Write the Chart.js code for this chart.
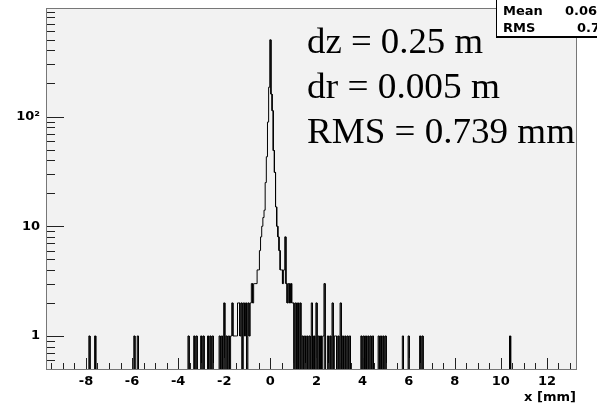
<!DOCTYPE html>
<html lang="en">
<head>
  <meta charset="UTF-8" />
  <title>x residual histogram</title>
  <script src="https://cdn.jsdelivr.net/npm/chart.js"></script>
  <style>
    html, body { margin: 0; padding: 0; background: #fff; }
    #wrap { width: 597px; height: 411px; }
  </style>
</head>
<body>
  <div id="wrap"><canvas id="histo" width="597" height="411"></canvas></div>

  <script>
    // histogram binning (bin centres, mm)
    const binWidth = 0.05;
    const firstBin = -9.7;
    const lastBin = 13.25;

    // central peak, read bin by bin
    const coreX = [-1.45, -1.40, -1.35, -1.30, -1.25, -1.20, -1.15, -1.10, -1.05, -1.00,
                   -0.95, -0.90, -0.85, -0.80, -0.75, -0.70, -0.65, -0.60, -0.55, -0.50,
                   -0.45, -0.40, -0.35, -0.30, -0.25, -0.20, -0.15, -0.10, -0.05, 0.00,
                   0.05, 0.10, 0.15, 0.20, 0.25, 0.30, 0.35, 0.40, 0.45, 0.50,
                   0.55, 0.60, 0.65, 0.70, 0.75, 0.80, 0.85, 0.90, 0.95, 1.00,
                   1.05, 1.10, 1.15, 1.20, 1.25, 1.30];
    const coreN = [1, 2, 2, 1, 2, 0, 2, 1, 2, 0,
                   2, 1, 2, 3, 2, 3, 3, 3, 4, 4,
                   6, 8, 10, 12, 14, 25, 43, 89, 185, 500,
                   160, 113, 49, 31, 15, 10, 8, 6, 4, 4,
                   3, 4, 8, 3, 2, 3, 2, 3, 2, 2,
                   0, 2, 0, 2, 0, 2];

    // tails
    const singleX = [-7.85, -7.60, -5.90, -5.75, -3.55, -3.30, -3.20, -3.00, -2.90,
                     -2.70, -2.60, -2.50, -2.20, -2.10, -1.90, -1.80, -1.70,
                     -1.60, -1.55, -1.50,
                     1.40, 1.50, 1.60, 1.70, 1.90, 2.10, 2.20, 2.30,
                     2.50, 2.60, 2.80, 2.85, 2.95, 3.15, 3.25, 3.35, 3.45,
                     3.95, 4.05, 4.15, 4.25, 4.35, 4.45, 4.70, 4.80, 4.90, 5.00,
                     5.75, 6.00, 6.50, 6.60, 10.40];
    const doubleX = [-2.00, -1.65, 1.80, 2.00, 2.70, 3.05];
    const tripleX = [2.35];

    const xTickVals = [-8, -6, -4, -2, 0, 2, 4, 6, 8, 10, 12];
    const yTickVals = [0.6, 0.7, 0.8, 0.9, 1, 2, 3, 4, 5, 6, 7, 8, 9,
                       10, 20, 30, 40, 50, 60, 70, 80, 90,
                       100, 200, 300, 400, 500, 600, 700, 800, 900];
    const yTickText = { 1: '1', 10: '10', 100: '10\u00b2' };

    const statNames = ['Mean', 'RMS'];
    const statValues = ['0.06', '0.7'];
    const noteLines = ['dz = 0.25 m', 'dr = 0.005 m', 'RMS = 0.739 mm'];

    // fill bins
    const counts = new Map();
    function put(xs, ns) {
      xs.forEach((x, i) => counts.set(Math.round(x / binWidth), Array.isArray(ns) ? ns[i] : ns));
    }
    put(singleX, 1);
    put(doubleX, 2);
    put(tripleX, 3);
    put(coreX, coreN);

    // step outline like ROOT draws it
    const points = [];
    const kFirst = Math.round(firstBin / binWidth);
    const kLast = Math.round(lastBin / binWidth);
    for (let k = kFirst; k <= kLast; k++) {
      const c = counts.get(k) || 0;
      const y = c > 0 ? c : 0.01;
      points.push({ x: (k - 0.5) * binWidth, y: y });
      points.push({ x: (k + 0.5) * binWidth, y: y });
    }

    const SANS = '"DejaVu Sans", sans-serif';

    const rootFrame = {
      id: 'rootFrame',
      beforeDraw(chart) {
        const { ctx, chartArea: a } = chart;
        ctx.save();
        ctx.fillStyle = '#ffffff';
        ctx.fillRect(0, 0, chart.width, chart.height);
        ctx.fillStyle = '#f2f2f2';
        ctx.fillRect(a.left, a.top, a.right - a.left, a.bottom - a.top);
        ctx.restore();
      },
      afterDraw(chart) {
        const { ctx, chartArea: a } = chart;
        const xs = chart.scales.x, ys = chart.scales.y;
        ctx.save();

        // frame
        ctx.strokeStyle = '#777';
        ctx.lineWidth = 1;
        ctx.strokeRect(a.left - 0.5, a.top - 0.5, a.right - a.left + 1, a.bottom - a.top + 1);

        // ticks inside the frame
        ctx.strokeStyle = '#222';
        ctx.beginPath();
        for (let v = -9.5; v <= 13.01; v += 0.5) {
          const px = Math.round(xs.getPixelForValue(v)) + 0.5;
          const len = xTickVals.includes(Math.round(v * 10) / 10) ? 11 : 6;
          ctx.moveTo(px, a.bottom);
          ctx.lineTo(px, a.bottom - len);
        }
        yTickVals.forEach(v => {
          const py = Math.round(ys.getPixelForValue(v)) + 0.5;
          const len = yTickText[v] ? 17 : 8;
          ctx.moveTo(a.left, py);
          ctx.lineTo(a.left + len, py);
        });
        ctx.stroke();

        // axis title
        ctx.fillStyle = '#000';
        ctx.font = 'bold 13px ' + SANS;
        ctx.textAlign = 'right';
        ctx.textBaseline = 'alphabetic';
        ctx.fillText('x [mm]', a.right, 401);

        // annotation, stretched to the widths seen in the original
        ctx.textAlign = 'left';
        ctx.font = '35px "Liberation Serif", "Times New Roman", serif';
        const widths = [176, 193, 268];
        noteLines.forEach((t, i) => {
          const w = ctx.measureText(t).width;
          ctx.save();
          ctx.translate(307, 53 + i * 45);
          ctx.scale(widths[i] / w, 1);
          ctx.fillText(t, 0, 0);
          ctx.restore();
        });

        // stats box
        ctx.fillStyle = '#fff';
        ctx.fillRect(496, 0, 110, 37);
        ctx.strokeStyle = '#000';
        ctx.strokeRect(496.5, -1, 110, 37.5);
        ctx.beginPath();
        ctx.moveTo(496, 37.5);
        ctx.lineTo(597, 37.5);
        ctx.stroke();
        ctx.fillStyle = '#000';
        ctx.font = 'bold 13px ' + SANS;
        statNames.forEach((t, i) => ctx.fillText(t, 503, 15 + i * 17));
        ctx.fillText(statValues[0], 565, 15);
        ctx.fillText(statValues[1], 577, 32);
        ctx.restore();
      }
    };

    new Chart(document.getElementById('histo'), {
      type: 'line',
      data: {
        datasets: [{
          data: points,
          borderColor: '#000',
          borderWidth: 1,
          pointRadius: 0,
          tension: 0,
          fill: false,
          clip: 0
        }]
      },
      options: {
        responsive: false,
        animation: false,
        events: [],
        layout: { padding: { top: 9, right: 21, left: 0, bottom: 0 } },
        plugins: { legend: { display: false }, tooltip: { enabled: false } },
        scales: {
          x: {
            type: 'linear',
            min: -9.69,
            max: 13.26,
            afterBuildTicks: axis => { axis.ticks = xTickVals.map(v => ({ value: v })); },
            afterFit: axis => {
              axis.height = 42;
              axis.paddingLeft = 0;
              axis.paddingRight = 0;
            },
            grid: { display: false, drawTicks: false },
            border: { display: false },
            ticks: {
              color: '#000',
              padding: 5,
              maxRotation: 0,
              autoSkip: false,
              font: { family: SANS, size: 13, weight: 'bold' },
              callback: v => String(v)
            }
          },
          y: {
            type: 'logarithmic',
            min: 0.5,
            max: 955,
            afterBuildTicks: axis => { axis.ticks = yTickVals.map(v => ({ value: v })); },
            afterFit: axis => {
              axis.width = 47;
              axis.paddingTop = 0;
              axis.paddingBottom = 0;
            },
            grid: { display: false, drawTicks: false },
            border: { display: false },
            ticks: {
              color: '#000',
              padding: 7,
              autoSkip: false,
              font: { family: SANS, size: 13, weight: 'bold' },
              callback: v => yTickText[v] || ''
            }
          }
        }
      },
      plugins: [rootFrame]
    });
  </script>
</body>
</html>
